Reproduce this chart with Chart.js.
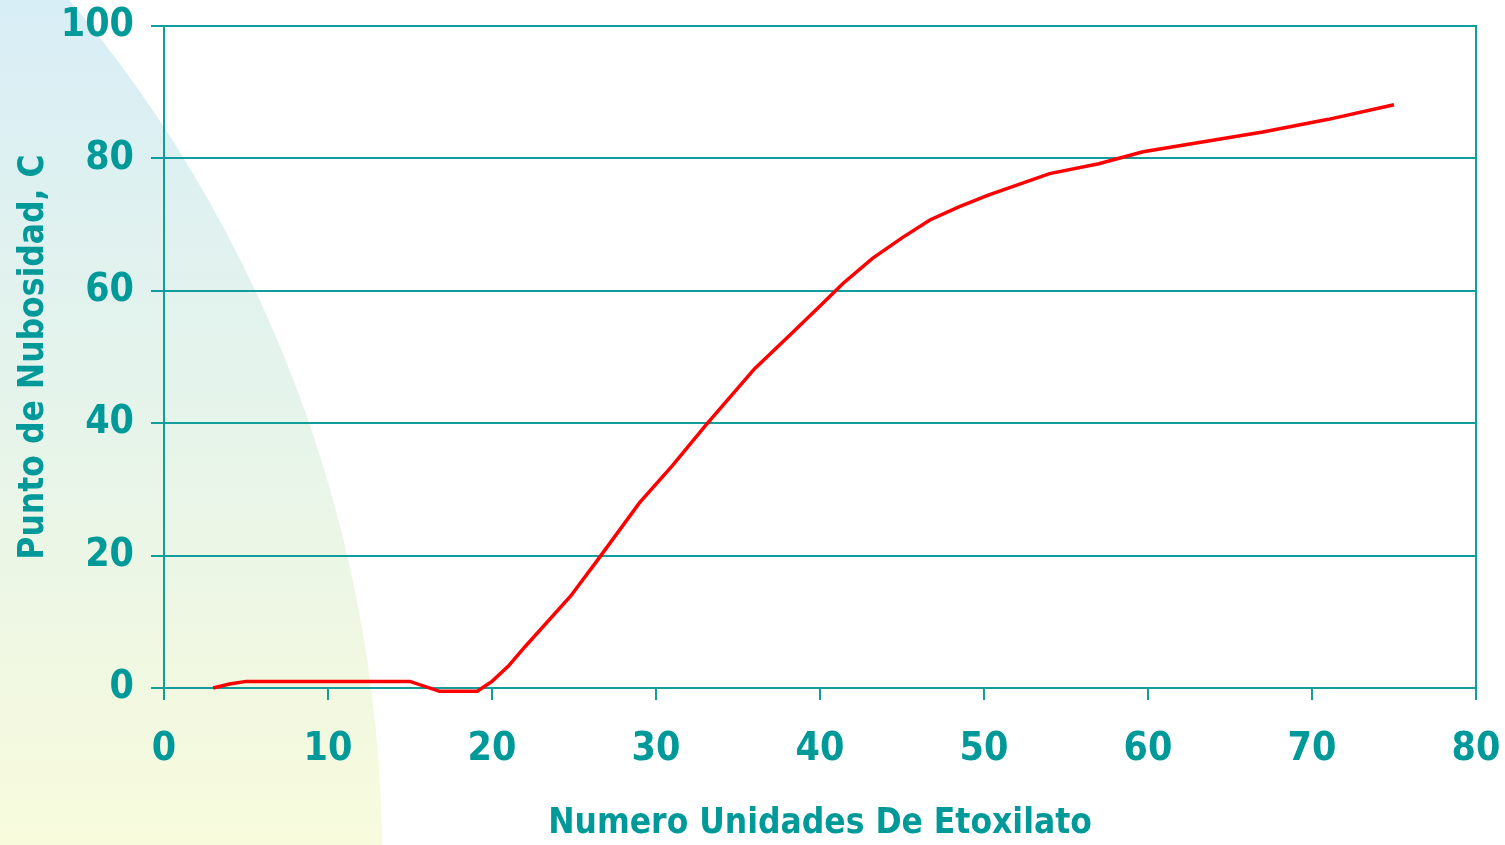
<!DOCTYPE html>
<html>
<head>
<meta charset="utf-8">
<script src="https://cdn.jsdelivr.net/npm/chart.js@4/dist/chart.umd.min.js"></script>
<style>
  html, body { margin: 0; padding: 0; background: #ffffff; }
  #wrap { width: 1505px; height: 845px; }
</style>
</head>
<body>
<div id="wrap"><canvas id="cloudChart" width="1505" height="845"></canvas></div>
<script>
// unidades de etoxilato vs punto de nubosidad
const etoxUnits = [3, 4, 5, 15, 16.8, 19.1, 20, 21, 22, 24.8, 26.4, 29, 31, 33, 36, 38.2, 40, 41.4, 43.2, 45, 46.7, 48.5, 50.3, 54, 57, 59.7, 67, 71, 75];
const cloudPoint = [0, 0.6, 1, 1, -0.5, -0.5, 1, 3.3, 6.2, 13.9, 19.2, 28, 33.6, 39.6, 48.2, 53.4, 57.7, 61.1, 64.9, 68, 70.7, 72.7, 74.5, 77.7, 79.2, 81, 84, 85.9, 88.1];
const xTicks = [0, 10, 20, 30, 40, 50, 60, 70, 80];
const yTicks = [0, 20, 40, 60, 80, 100];

const teal = '#009999';
const lineTeal = '#129d9d';
const fontFam = "'Liberation Sans Narrow', 'Arial Narrow', 'DejaVu Sans Condensed', sans-serif";

const bgPlugin = {
    id: 'bgArc',
    beforeDraw(chart) {
        const ctx = chart.ctx;
        ctx.save();
        ctx.fillStyle = '#ffffff';
        ctx.fillRect(0, 0, chart.width, chart.height);
        const g = ctx.createLinearGradient(0, 0, 0, chart.height);
        g.addColorStop(0, 'rgb(216,238,246)');
        g.addColorStop(0.5, 'rgb(230,244,234)');
        g.addColorStop(1, 'rgb(248,251,220)');
        ctx.fillStyle = g;
        ctx.beginPath();
        ctx.arc(-952, 858, 1334, 0, Math.PI * 2);
        ctx.fill();
        ctx.restore();
    },
    afterDatasetsDraw(chart) {
        // right border of plot
        const a = chart.chartArea;
        const ctx = chart.ctx;
        ctx.save();
        ctx.strokeStyle = lineTeal;
        ctx.lineWidth = 2;
        ctx.beginPath();
        ctx.moveTo(a.right, a.top - 1);
        ctx.lineTo(a.right, a.bottom);
        ctx.stroke();
        ctx.restore();
    }
};

const data = etoxUnits.map((x, i) => ({ x: x, y: cloudPoint[i] }));

new Chart(document.getElementById('cloudChart').getContext('2d'), {
    type: 'line',
    data: {
        datasets: [{
            data: data,
            borderColor: '#ff0000',
            borderWidth: 3.5,
            pointRadius: 0,
            fill: false,
            tension: 0,
            clip: 8
        }]
    },
    options: {
        responsive: false,
        animation: false,
        layout: { padding: { top: 26, right: 29, left: 0, bottom: 0 } },
        plugins: { legend: { display: false }, tooltip: { enabled: false } },
        scales: {
            x: {
                type: 'linear',
                min: 0,
                max: 80,
                afterBuildTicks: (s) => { s.ticks = xTicks.map(v => ({ value: v })); },
                afterFit: (s) => { s.height = 157; s.paddingLeft = 0; s.paddingRight = 0; },
                grid: { drawOnChartArea: false, drawTicks: true, tickLength: 12, color: lineTeal, lineWidth: 2 },
                border: { display: true, color: lineTeal, width: 2 },
                ticks: { color: teal, padding: 26, maxRotation: 0, font: { family: fontFam, size: 39, weight: 'bold' } },
                title: { display: true, text: 'Numero Unidades De Etoxilato', color: teal, padding: { top: 0, bottom: 0 },
                         font: { family: fontFam, size: 35, weight: 'bold' } }
            },
            y: {
                min: 0,
                max: 100,
                afterBuildTicks: (s) => { s.ticks = yTicks.map(v => ({ value: v })); },
                afterFit: (s) => { s.width = 164; s.paddingTop = 0; s.paddingBottom = 0; },
                grid: { drawOnChartArea: true, drawTicks: true, tickLength: 13, color: lineTeal, lineWidth: 2 },
                border: { display: true, color: lineTeal, width: 2 },
                ticks: { color: teal, padding: 17, font: { family: fontFam, size: 39, weight: 'bold' } },
                title: { display: true, text: 'Punto de Nubosidad, C', color: teal, padding: { top: 13, bottom: 0 },
                         font: { family: fontFam, size: 35, weight: 'bold' } }
            }
        }
    },
    plugins: [bgPlugin]
});
</script>
</body>
</html>
